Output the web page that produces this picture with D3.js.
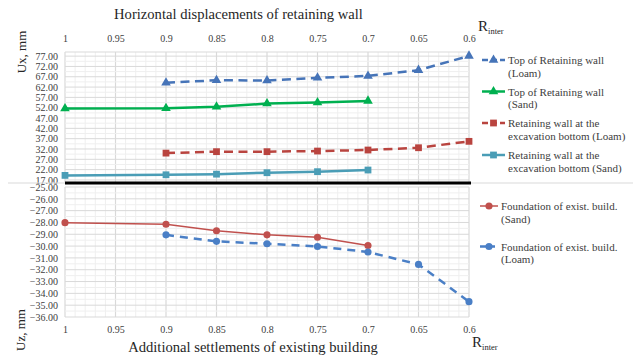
<!DOCTYPE html>
<html>
<head>
<meta charset="utf-8">
<script src="https://cdn.jsdelivr.net/npm/d3@7"></script>
<style>
  body { margin: 0; background: #fff; }
  svg text { font-family: "Liberation Serif", "Times New Roman", "DejaVu Serif", serif; }
</style>
</head>
<body>
<div id="chart"></div>
<script>
// ************************** data **************************
const rTicks = [1, 0.95, 0.9, 0.85, 0.8, 0.75, 0.7, 0.65, 0.6];
const rLoam = [0.9, 0.85, 0.8, 0.75, 0.7, 0.65, 0.6];
const rSand = [1, 0.9, 0.85, 0.8, 0.75, 0.7];

// Ux, mm
const topWallLoam = [64.1, 65.3, 65.2, 66.5, 67.4, 70.2, 77.1];
const topWallSand = [51.6, 51.7, 52.5, 54.0, 54.5, 55.3];
const excavLoam = [30.0, 30.7, 30.7, 31.0, 31.5, 32.6, 35.7];
const excavSand = [19.2, 19.5, 19.8, 20.5, 21.0, 21.8];

// Uz, mm
const foundSand = [-28.02, -28.15, -28.7, -29.05, -29.25, -29.95];
const foundLoam = [-29.05, -29.6, -29.8, -30.03, -30.5, -31.55, -34.7];

const uxTicks = [17, 22, 27, 32, 37, 42, 47, 52, 57, 62, 67, 72, 77];
const uzTicks = [-36, -35, -34, -33, -32, -31, -30, -29, -28, -27, -26, -25];

const topSeries = [
  { name: ["Top of Retaining wall", "(Loam)"], x: rLoam, y: topWallLoam, color: "#4674b8", dash: "9,5.5", symbol: d3.symbolTriangle, size: 40, width: 2.5 },
  { name: ["Top of Retaining wall", "(Sand)"], x: rSand, y: topWallSand, color: "#00b050", dash: null, symbol: d3.symbolTriangle, size: 40, width: 2.5 },
  { name: ["Retaining wall at the", "excavation bottom (Loam)"], x: rLoam, y: excavLoam, color: "#b9443f", dash: "9,5.5", symbol: d3.symbolSquare, size: 46, width: 2.5 },
  { name: ["Retaining wall at the", "excavation bottom (Sand)"], x: rSand, y: excavSand, color: "#4a9db6", dash: null, symbol: d3.symbolSquare, size: 46, width: 2.5 },
];
const botSeries = [
  { name: ["Foundation of exist. build.", "(Sand)"], x: rSand, y: foundSand, color: "#c0504d", dash: null, symbol: d3.symbolCircle, size: 40, width: 1.5 },
  { name: ["Foundation of exist. build.", "(Loam)"], x: rLoam, y: foundLoam, color: "#4a7fc6", dash: "8,6", symbol: d3.symbolCircle, size: 40, width: 2.5 },
];

// ************************** layout **************************
const width = 633;
const height = 358;
const plotLeft = 65;
const plotRight = 469;
const serif = '"Liberation Serif", "Times New Roman", "DejaVu Serif", serif';

const xScale = d3.scaleLinear([1, 0.6], [plotLeft, plotRight]);
const yTop = d3.scaleLinear([16, 79], [182, 52]);
const yBot = d3.scaleLinear([-36, -25], [317, 187]);

const svg = d3
  .create("svg")
  .attr("width", width)
  .attr("height", height)
  .attr("font-family", serif);

svg.append("rect").attr("width", width).attr("height", height).attr("fill", "#fff");

function drawGrid(g, yScale, minor, major) {
  const [y0, y1] = yScale.range();
  // vertical grid: minor every 0.01, major every 0.05
  g.append("g")
    .selectAll("line")
    .data(d3.range(60, 101))
    .join("line")
    .attr("x1", (d) => xScale(d / 100))
    .attr("x2", (d) => xScale(d / 100))
    .attr("y1", y0)
    .attr("y2", y1)
    .attr("stroke", (d) => (d % 5 === 0 ? "#d9d9d9" : "#efefef"))
    .attr("stroke-width", (d) => (d % 5 === 0 ? 1.2 : 1));
  g.append("g")
    .selectAll("line")
    .data(minor)
    .join("line")
    .attr("x1", plotLeft)
    .attr("x2", plotRight)
    .attr("y1", (d) => yScale(d))
    .attr("y2", (d) => yScale(d))
    .attr("stroke", "#efefef");
  g.append("g")
    .selectAll("line")
    .data(major)
    .join("line")
    .attr("x1", plotLeft)
    .attr("x2", plotRight)
    .attr("y1", (d) => yScale(d))
    .attr("y2", (d) => yScale(d))
    .attr("stroke", "#d9d9d9");
}

function drawSeries(g, series, yScale) {
  const line = d3
    .line()
    .x((d) => xScale(d[0]))
    .y((d) => yScale(d[1]));
  series.forEach((s) => {
    const pts = d3.zip(s.x, s.y);
    g.append("path")
      .attr("d", line(pts))
      .attr("fill", "none")
      .attr("stroke", s.color)
      .attr("stroke-width", s.width)
      .attr("stroke-dasharray", s.dash);
    g.append("g")
      .selectAll("path")
      .data(pts)
      .join("path")
      .attr("transform", (d) => `translate(${xScale(d[0])},${yScale(d[1])})`)
      .attr("d", d3.symbol(s.symbol, s.size))
      .attr("fill", s.color);
  });
}

function drawLegend(g, series, x0, x1, ys, lineGap, fontSize) {
  series.forEach((s, i) => {
    const y = ys[i];
    g.append("line")
      .attr("x1", x0)
      .attr("x2", x1)
      .attr("y1", y)
      .attr("y2", y)
      .attr("stroke", s.color)
      .attr("stroke-width", s.width)
      .attr("stroke-dasharray", s.dash ? "6,3" : null);
    g.append("path")
      .attr("transform", `translate(${(x0 + x1) / 2},${y})`)
      .attr("d", d3.symbol(s.symbol, s.size))
      .attr("fill", s.color);
    const t = g
      .append("text")
      .attr("x", x1 + 3)
      .attr("y", y + 4)
      .attr("font-family", serif)
      .attr("font-size", fontSize)
      .attr("fill", "#404040");
    s.name.forEach((n, k) =>
      t.append("tspan").attr("x", x1 + 3).attr("dy", k === 0 ? 0 : lineGap).text(n)
    );
  });
}

function rLabel(g, x, y) {
  const t = g.append("text").attr("x", x).attr("y", y).attr("font-family", serif).attr("fill", "#262626");
  t.append("tspan").attr("font-size", 15).text("R");
  t.append("tspan").attr("font-size", 8.5).attr("dy", 3).text("inter");
}

function styleTicks(g) {
  g.attr("font-family", serif);
  g.select(".domain").remove();
  g.selectAll("text").attr("font-size", 10).attr("fill", "#404040");
}

// ************************** top chart: Ux **************************
const topChart = svg.append("g");
drawGrid(topChart, yTop, d3.range(19.5, 79, 5), d3.range(17, 80, 5).concat([79]));
drawSeries(topChart, topSeries, yTop);

topChart
  .append("g")
  .attr("transform", `translate(0,${yTop.range()[1] - 7})`)
  .call(d3.axisTop(xScale).tickValues(rTicks).tickFormat(d3.format("")).tickSize(0))
  .call(styleTicks);

topChart
  .append("g")
  .attr("transform", `translate(${plotLeft - 4},0)`)
  .call(d3.axisLeft(yTop).tickValues(uxTicks).tickFormat(d3.format(".2f")).tickSize(0))
  .call(styleTicks);

topChart
  .append("text")
  .attr("x", 238.5)
  .attr("y", 19)
  .attr("text-anchor", "middle")
  .attr("font-size", 14.6)
  .attr("fill", "#262626")
  .text("Horizontal displacements of retaining wall");

topChart
  .append("text")
  .attr("transform", "translate(26,52) rotate(-90)")
  .attr("text-anchor", "middle")
  .attr("font-size", 13)
  .attr("fill", "#262626")
  .text("Ux, mm");

rLabel(topChart, 478, 31);
drawLegend(topChart, topSeries, 482, 505, [60, 91.5, 123, 155], 12.5, 11);

// ************************** bottom chart: Uz **************************
const botChart = svg.append("g");
drawGrid(botChart, yBot, d3.range(-35.5, -25, 1), uzTicks);
drawSeries(botChart, botSeries, yBot);

botChart
  .append("g")
  .attr("transform", `translate(0,${yBot.range()[0] + 6})`)
  .call(d3.axisBottom(xScale).tickValues(rTicks).tickFormat(d3.format("")).tickSize(0))
  .call(styleTicks);

botChart
  .append("g")
  .attr("transform", `translate(${plotLeft - 4},0)`)
  .call(d3.axisLeft(yBot).tickValues(uzTicks).tickFormat(d3.format(".2f")).tickSize(0))
  .call(styleTicks);

botChart
  .append("text")
  .attr("x", 253)
  .attr("y", 352)
  .attr("text-anchor", "middle")
  .attr("font-size", 14.6)
  .attr("fill", "#262626")
  .text("Additional settlements of existing building");

botChart
  .append("text")
  .attr("transform", "translate(25,330) rotate(-90)")
  .attr("text-anchor", "middle")
  .attr("font-size", 13)
  .attr("fill", "#262626")
  .text("Uz, mm");

rLabel(botChart, 472, 347);
drawLegend(botChart, botSeries, 480, 498, [206, 246.5], 12.8, 11);

// separator between the two charts
svg.append("line")
  .attr("x1", 8).attr("x2", width)
  .attr("y1", 183).attr("y2", 183)
  .attr("stroke", "#d9d9d9");
svg.append("line")
  .attr("x1", plotLeft).attr("x2", plotRight + 2)
  .attr("y1", 183).attr("y2", 183)
  .attr("stroke", "#000")
  .attr("stroke-width", 3);

d3.select("#chart").node().appendChild(svg.node());
</script>
</body>
</html>
